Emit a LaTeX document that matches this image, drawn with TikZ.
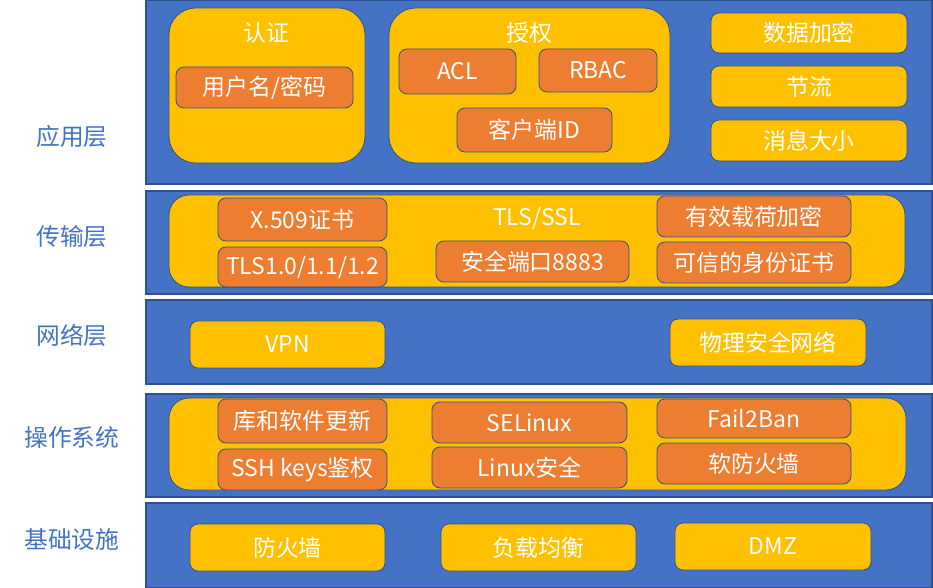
\documentclass[tikz,border=0pt]{standalone}
\usepackage{fontspec}
\newfontfamily\cjk{Noto Sans CJK SC}
\usetikzlibrary{fit}
\definecolor{lblue}{HTML}{4472C4}
\definecolor{bord}{HTML}{2F528F}
\definecolor{yel}{HTML}{FFC000}
\definecolor{org}{HTML}{ED7D31}
\tikzset{
  layer/.style={draw=bord, fill=lblue, line width=0.8pt, inner sep=0pt},
  ybox/.style={draw=bord, fill=yel, rounded corners=6pt, line width=0.6pt, inner sep=0pt},
  bigy/.style={ybox, rounded corners=15pt},
  obox/.style={draw=bord, fill=org, rounded corners=6pt, line width=0.6pt, inner sep=0pt},
  txt/.style={text=white, font=\cjk\fontsize{17.2}{19}\selectfont, inner sep=0pt},
  side/.style={text=lblue, font=\cjk\fontsize{17.8}{19}\selectfont, inner sep=0pt},
}
\begin{document}
\begin{tikzpicture}[x=0.75pt, y=-0.75pt]
\useasboundingbox (0,0) rectangle (933,588);
% layers
\node[layer, fit={(146,0.5) (932,184)}] (app) {};
\node[layer, fit={(146,191) (932,294)}] (trans) {};
\node[layer, fit={(146,300) (932,384)}] (net) {};
\node[layer, fit={(146,394) (932,497)}] (os) {};
\node[layer, fit={(146,503) (932,587.5)}] (infra) {};
% side labels
\node[side] (lapp) at (72,136) {应用层};
\node[side] (ltrans) at (72,237) {传输层};
\node[side] (lnet) at (72,335) {网络层};
\node[side] (los) at (72,437) {操作系统};
\node[side] (linfra) at (72,540) {基础设施};
% application layer
\node[bigy, rounded corners=20pt, fit={(169,8) (365,163)}] (auth) {};
\node[txt] (authT) at (266,33) {认证};
\node[obox, fit={(176,67) (353,108)}, label={[txt]center:用户名/密码}] (upw) {};
\node[bigy, rounded corners=20pt, fit={(389,8) (670,163)}] (authz) {};
\node[txt] (authzT) at (529,33) {授权};
\node[obox, fit={(399,49) (516,94)}, label={[txt]center:ACL}] (acl) {};
\node[obox, fit={(539,49) (657,92)}, label={[txt]center:RBAC}] (rbac) {};
\node[obox, fit={(457,108) (612,152)}, label={[txt]center:客户端ID}] (cid) {};
\node[ybox, fit={(711,13) (907,53)}, label={[txt]center:数据加密}] (enc) {};
\node[ybox, fit={(711,66) (907,107)}, label={[txt]center:节流}] (thr) {};
\node[ybox, fit={(711,120) (907,161)}, label={[txt]center:消息大小}] (msg) {};
% transport layer
\node[bigy, fit={(169,195) (905,287)}] (tls) {};
\node[txt] (tlsT) at (537,218) {TLS/SSL};
\node[obox, fit={(218,198) (387,241)}, label={[txt]center:X.509证书}] (x509) {};
\node[obox, fit={(218,247) (387,287)}, label={[txt]center:TLS1.0/1.1/1.2}] (tlsv) {};
\node[obox, fit={(436,241) (629,282)}, label={[txt]center:安全端口8883}] (port) {};
\node[obox, fit={(657,196) (851,237)}, label={[txt]center:有效载荷加密}] (pay) {};
\node[obox, fit={(657,242) (851,283)}, label={[txt]center:可信的身份证书}] (cert) {};
% network layer
\node[ybox, fit={(190,321) (385,368)}, label={[txt]center:VPN}] (vpn) {};
\node[ybox, fit={(670,319) (866,366)}, label={[txt]center:物理安全网络}] (phy) {};
% os layer
\node[bigy, fit={(169,398) (906,490)}] (osy) {};
\node[obox, fit={(218,399) (387,443)}, label={[txt]center:库和软件更新}] (lib) {};
\node[obox, fit={(218,449) (387,490)}, label={[txt]center:SSH keys鉴权}] (ssh) {};
\node[obox, fit={(432,402) (627,443)}, label={[txt]center:SELinux}] (sel) {};
\node[obox, fit={(432,447) (627,488)}, label={[txt]center:Linux安全}] (lsec) {};
\node[obox, fit={(657,399) (851,438)}, label={[txt]center:Fail2Ban}] (f2b) {};
\node[obox, fit={(657,443) (851,484)}, label={[txt]center:软防火墙}] (sfw) {};
% infrastructure
\node[ybox, fit={(190,524) (385,571)}, label={[txt]center:防火墙}] (fw) {};
\node[ybox, fit={(441,524) (636,571)}, label={[txt]center:负载均衡}] (lb) {};
\node[ybox, fit={(675,523) (871,570)}, label={[txt]center:DMZ}] (dmz) {};
\end{tikzpicture}
\end{document}
